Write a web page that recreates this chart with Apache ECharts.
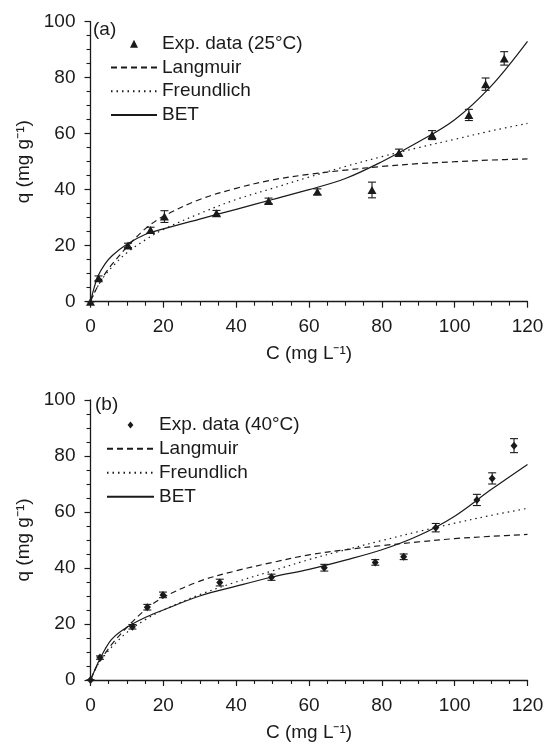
<!DOCTYPE html>
<html>
<head>
<meta charset="utf-8">
<title>Adsorption isotherms</title>
<script src="https://cdn.jsdelivr.net/npm/echarts@6/dist/echarts.min.js"></script>
<style>
  html, body { margin: 0; padding: 0; background: #fff; }
  #chart { width: 547px; height: 748px; }
</style>
</head>
<body>
<div id="chart"></div>
<script>
// experimental points, panel (a) 25 C
const expA_C = [0, 2.2, 10.3, 16.5, 20.3, 34.6, 48.9, 62.3, 77.3, 84.7, 93.8, 103.9, 108.5, 113.6];
const expA_q = [0, 8.4, 20.1, 25.6, 30.4, 31.6, 36.0, 39.3, 39.9, 53.2, 59.5, 66.7, 77.7, 86.9];
const expA_err = [0, 0.8, 0.8, 1.0, 2.1, 1.0, 1.0, 1.0, 2.8, 1.3, 1.6, 2.0, 2.2, 2.4];

// experimental points, panel (b) 40 C
const expB_C = [0, 2.6, 11.5, 15.6, 19.9, 35.5, 49.7, 64.2, 78.2, 86.0, 94.8, 106.1, 110.3, 116.3];
const expB_q = [0, 8.0, 19.0, 26.0, 30.4, 34.8, 36.7, 40.1, 42.0, 44.0, 54.4, 64.3, 72.0, 83.7];
const expB_err = [0, 0.6, 0.8, 1.0, 1.0, 1.2, 1.1, 1.2, 1.0, 1.0, 1.5, 2.0, 2.0, 2.5];

// model curves
const fitC = [0, 1, 2, 4, 6, 10, 15, 20, 30, 40, 50, 60, 70, 80, 90, 100, 110, 120];
const langA = [0, 3, 5.5, 10, 13.5, 19.5, 26, 30.5, 36.5, 40.5, 43.5, 45.5, 47, 48.3, 49.3, 50, 50.6, 51];
const freuA = [0, 3, 5.5, 9.5, 12.5, 17.5, 22, 25.8, 31.5, 36.5, 40.5, 44.5, 48.3, 51.8, 55, 58, 61, 63.7];
const betA  = [0, 5, 9, 13.5, 16.5, 20.5, 24, 26, 29.5, 33, 36.5, 40, 44, 50, 57, 65, 77, 93];
const langB = [0, 3, 5.5, 9.5, 13, 18.8, 25, 29.5, 35.3, 39, 42, 44.7, 46.5, 48, 49.3, 50.5, 51.3, 52];
const freuB = [0, 3, 5.5, 9, 12, 17, 21.5, 25, 30.5, 35, 39, 43, 46.5, 49.8, 53, 56, 58.8, 61.3];
const betB  = [0, 3, 6, 11, 14.8, 18.8, 22.3, 25, 30, 33.5, 36.8, 39.5, 42.8, 46.5, 51.5, 58.5, 68, 77];

const FONT = 'Liberation Sans, Arial, sans-serif';
const INK = '#1a1a1a';

// legend marker shapes (kept square, unlike the built-in symbols)
const TRI_ICON = 'path://M0,10L5,0L10,10Z';
const DIA_ICON = 'path://M5,0L10,6L5,12L0,6Z';

function pairs(xs, ys) {
  return xs.map((x, i) => [x, ys[i]]);
}
function triples(xs, ys, es) {
  return xs.map((x, i) => [x, ys[i], es[i]]);
}

// vertical error bar with caps
function renderErr(params, api) {
  const x = api.value(0), y = api.value(1), e = api.value(2);
  const hi = api.coord([x, y + e]);
  const lo = api.coord([x, y - e]);
  const w = 4;
  const st = { stroke: INK, lineWidth: 1.1 };
  return {
    type: 'group',
    children: [
      { type: 'line', shape: { x1: hi[0], y1: hi[1], x2: lo[0], y2: lo[1] }, style: st },
      { type: 'line', shape: { x1: hi[0] - w, y1: hi[1], x2: hi[0] + w, y2: hi[1] }, style: st },
      { type: 'line', shape: { x1: lo[0] - w, y1: lo[1], x2: lo[0] + w, y2: lo[1] }, style: st }
    ]
  };
}

function xAxisFor(idx) {
  return {
    gridIndex: idx, type: 'value', min: 0, max: 120, interval: 20,
    name: 'C (mg L\u207B\u00B9)', nameLocation: 'middle', nameGap: 43,
    nameTextStyle: { fontFamily: FONT, fontSize: 19, color: INK },
    axisLine: { onZero: false, lineStyle: { color: INK, width: 1.3 } },
    axisTick: { inside: false, length: 6, lineStyle: { color: INK, width: 1.2 } },
    minorTick: { show: true, splitNumber: 4, length: 4, lineStyle: { color: INK, width: 1.1 } },
    splitLine: { show: false },
    axisLabel: { fontFamily: FONT, fontSize: 19, color: INK, margin: 16 }
  };
}
function yAxisFor(idx) {
  return {
    gridIndex: idx, type: 'value', min: 0, max: 100, interval: 20,
    name: 'q (mg g\u207B\u00B9)', nameLocation: 'middle', nameGap: 51,
    nameTextStyle: { fontFamily: FONT, fontSize: 19, color: INK },
    axisLine: { show: true, onZero: false, lineStyle: { color: INK, width: 1.3 } },
    axisTick: { show: true, inside: false, length: 6, lineStyle: { color: INK, width: 1.2 } },
    minorTick: { show: true, splitNumber: 4, length: 4, lineStyle: { color: INK, width: 1.1 } },
    splitLine: { show: false },
    axisLabel: { fontFamily: FONT, fontSize: 19, color: INK, margin: 15 }
  };
}

function curve(name, idx, data, dash) {
  return {
    name: name, type: 'line', xAxisIndex: idx, yAxisIndex: idx,
    data: data, smooth: 0.35, symbol: 'none', z: 2,
    itemStyle: { color: INK },
    lineStyle: { color: INK, width: 1.2, type: dash }
  };
}

// legend entries: line icons without the centre symbol
function legendItems(expName, icon) {
  return [
    { name: expName, icon: icon },
    { name: 'Langmuir', itemStyle: { opacity: 0 } },
    { name: 'Freundlich', itemStyle: { opacity: 0 } },
    { name: 'BET', itemStyle: { opacity: 0 } }
  ];
}

const chart = echarts.init(document.getElementById('chart'), null, { renderer: 'canvas' });

const option = {
  animation: false,
  backgroundColor: '#fff',
  title: [
    { text: '(a)', left: 93, top: 20, padding: 0,
      textStyle: { fontFamily: FONT, fontSize: 19, fontWeight: 'normal', color: INK } },
    { text: '(b)', left: 95, top: 395, padding: 0,
      textStyle: { fontFamily: FONT, fontSize: 19, fontWeight: 'normal', color: INK } }
  ],
  grid: [
    { left: 90.5, top: 21.7, width: 437, height: 280 },
    { left: 90.5, top: 400, width: 437, height: 280 }
  ],
  legend: [
    {
      data: legendItems('Exp. data (25°C)', TRI_ICON),
      orient: 'vertical', left: 110, top: 32, itemWidth: 46, itemHeight: 8, itemGap: 0,
      selectedMode: false, padding: 0, symbolKeepAspect: true,
      textStyle: { fontFamily: FONT, fontSize: 19, color: INK, lineHeight: 23.7 }
    },
    {
      data: legendItems('Exp. data (40°C)', DIA_ICON),
      orient: 'vertical', left: 106, top: 413, itemWidth: 47, itemHeight: 7, itemGap: 0,
      selectedMode: false, padding: 0, symbolKeepAspect: true,
      textStyle: { fontFamily: FONT, fontSize: 19, color: INK, lineHeight: 23.9 }
    }
  ],
  xAxis: [xAxisFor(0), xAxisFor(1)],
  yAxis: [yAxisFor(0), yAxisFor(1)],
  series: [
    curve('Langmuir', 0, pairs(fitC, langA), [6, 4]),
    curve('Freundlich', 0, pairs(fitC, freuA), [1.5, 4]),
    curve('BET', 0, pairs(fitC, betA), 'solid'),
    {
      name: 'errA', type: 'custom', xAxisIndex: 0, yAxisIndex: 0,
      data: triples(expA_C, expA_q, expA_err), renderItem: renderErr,
      encode: { x: 0, y: 1 }, z: 3
    },
    {
      name: 'Exp. data (25°C)', type: 'scatter', xAxisIndex: 0, yAxisIndex: 0,
      data: pairs(expA_C, expA_q), symbol: 'triangle', symbolSize: [9, 8],
      itemStyle: { color: INK, opacity: 1 }, z: 4
    },
    curve('Langmuir', 1, pairs(fitC, langB), [6, 4]),
    curve('Freundlich', 1, pairs(fitC, freuB), [1.5, 4]),
    curve('BET', 1, pairs(fitC, betB), 'solid'),
    {
      name: 'errB', type: 'custom', xAxisIndex: 1, yAxisIndex: 1,
      data: triples(expB_C, expB_q, expB_err), renderItem: renderErr,
      encode: { x: 0, y: 1 }, z: 3
    },
    {
      name: 'Exp. data (40°C)', type: 'scatter', xAxisIndex: 1, yAxisIndex: 1,
      data: pairs(expB_C, expB_q), symbol: 'diamond', symbolSize: [7, 8],
      itemStyle: { color: INK, opacity: 1 }, z: 4
    }
  ]
};

chart.setOption(option);
</script>
</body>
</html>
